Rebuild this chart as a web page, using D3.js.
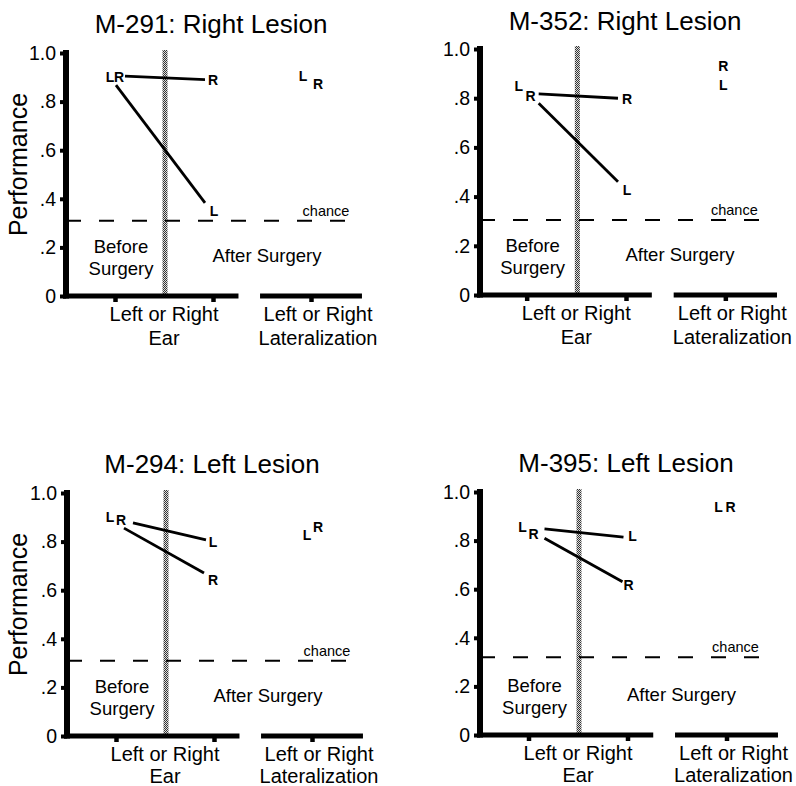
<!DOCTYPE html>
<html><head><meta charset="utf-8">
<script src="https://cdn.jsdelivr.net/npm/d3@7"></script>
<style>
body{margin:0;background:#fff;}
svg{display:block;font-family:"Liberation Sans",Arial,Helvetica,sans-serif;}
</style></head>
<body><svg id="c" width="796" height="786"></svg>
<script>
// ---------- data ----------
const titles = ["M-291: Right Lesion", "M-352: Right Lesion", "M-294: Left Lesion", "M-395: Left Lesion"];
const conditions = ["Before", "After", "Lateralization"];
const yTicks = [0, 0.2, 0.4, 0.6, 0.8, 1.0];
const yTickLabels = ["0", ".2", ".4", ".6", ".8", "1.0"];
const earLabel = ["Left or Right", "Ear"];
const latLabel = ["Left or Right", "Lateralization"];
const leftBefore   = [0.873, 0.828, 0.893, 0.855];
const leftAfter    = [0.340, 0.428, 0.799, 0.813];
const rightBefore  = [0.907, 0.820, 0.874, 0.846];
const rightAfter   = [0.889, 0.798, 0.648, 0.619];
const leftLateral  = [0.905, 0.855, 0.827, 0.938];
const rightLateral = [0.872, 0.930, 0.860, 0.938];
const chance       = [0.310, 0.305, 0.310, 0.320];

// ---------- layout / style ----------
const layout = [
  {top:53, bottom:296, axisX:66,  xr:[66,360],  titleX:211, titleY:33, ylab:true, catGap:24},
  {top:49, bottom:295, axisX:480, xr:[477,775], titleX:625, titleY:30, ylab:false, catGap:24},
  {top:493,bottom:736, axisX:67,  xr:[67,361],  titleX:212, titleY:473, ylab:true, catGap:22},
  {top:492,bottom:735, axisX:480, xr:[479,776], titleX:626, titleY:472, ylab:false, catGap:22}
];
// label offsets [dx,dy] and line trims
const lab = [
  {bL:[-5,-7], bR:[4,1],  aL:[1,-2], aR:[0,0], latL:[-8,0], latR:[7,0], g:{L:[1,8], R:[10,8]}},
  {bL:[-8,-5], bR:[4,3],  aL:[1,0],  aR:[1,0], latL:[-2,0], latR:[-2,0], g:{L:[12,8], R:[12,8]}},
  {bL:[-6,-2], bR:[5,-4], aL:[-1,0], aR:[-1,1], latL:[-5,0], latR:[6,0], g:{L:[17,8], R:[8,10]}},
  {bL:[-6,0],  bR:[5,5],  aL:[5,-1], aR:[1,0], latL:[-8,0], latR:[4,0], g:{L:[16,4], R:[16,5]}}
];

const svg = d3.select("#c");
const defs = svg.append("defs");
const pat = defs.append("pattern").attr("id","stip").attr("width",2).attr("height",2)
  .attr("patternUnits","userSpaceOnUse");
pat.append("rect").attr("width",2).attr("height",2).attr("fill","#ddd");
pat.append("rect").attr("width",1).attr("height",1).attr("fill","#333");
pat.append("rect").attr("x",1).attr("y",1).attr("width",1).attr("height",1).attr("fill","#333");

titles.forEach((title, i) => {
  const L = layout[i], o = lab[i];
  const g = svg.append("g");
  const y = d3.scaleLinear().domain([0,1]).range([L.bottom, L.top]);
  const x = d3.scalePoint().domain(conditions).range(L.xr).padding(0.5);
  const step = x.step();
  const xB = x("Before"), xA = x("After"), xLat = x("Lateralization");

  // title
  g.append("text").attr("x", L.titleX).attr("y", L.titleY).attr("text-anchor","middle")
    .attr("font-size", 26).attr("fill","#000").text(title);

  // gray vertical divider
  const gx = (xB + xA) / 2 + 1;
  g.append("rect").attr("x", gx - 2.5).attr("y", y(1) - 3).attr("width", 5)
    .attr("height", y(0) - y(1) + 3).attr("fill", "url(#stip)");

  // chance dashed line
  g.append("line").attr("x1", L.axisX).attr("x2", xLat + 35)
    .attr("y1", y(chance[i])).attr("y2", y(chance[i]))
    .attr("stroke","#000").attr("stroke-width",2).attr("stroke-dasharray","15,18");
  g.append("text").attr("x", xLat + (i % 2 ? 9 : 15)).attr("y", y(chance[i]) - 5)
    .attr("text-anchor","middle").attr("font-size",14.5).text("chance");

  // y axis
  const ya = d3.axisLeft(y).tickValues(yTicks).tickFormat((d, k) => yTickLabels[k])
    .tickSize(6).tickSizeOuter(0).tickPadding(4);
  const yg = g.append("g").attr("transform", `translate(${L.axisX},0)`).call(ya);
  yg.select(".domain").remove();
  yg.selectAll(".tick line").attr("stroke","#000").attr("stroke-width",4);
  yg.selectAll(".tick text").attr("font-size",19.5).attr("fill","#000")
    .attr("font-family","'Liberation Sans',Arial,sans-serif");
  g.append("line").attr("x1", L.axisX).attr("x2", L.axisX)
    .attr("y1", y(1) - 3).attr("y2", y(0) + 2.5)
    .attr("stroke","#000").attr("stroke-width",6);

  // x axis: ticks from scale, two baseline segments
  const xa = d3.axisBottom(x).tickSize(6).tickFormat("");
  const xg = g.append("g").attr("transform", `translate(0,${y(0)})`).call(xa);
  xg.select(".domain").remove();
  xg.selectAll(".tick line").attr("stroke","#000").attr("stroke-width",4.5);
  g.append("line").attr("x1", L.axisX - 3).attr("x2", xA + 0.26 * step)
    .attr("y1", y(0)).attr("y2", y(0)).attr("stroke","#000").attr("stroke-width",5);
  g.append("line").attr("x1", xLat - 0.52 * step).attr("x2", xLat + 0.52 * step)
    .attr("y1", y(0)).attr("y2", y(0)).attr("stroke","#000").attr("stroke-width",5);

  // category labels
  const cat1 = (xB + xA) / 2, cat2 = xLat + 7;
  [[cat1, earLabel], [cat2, latLabel]].forEach(([cx, lines]) => {
    lines.forEach((t, k) => {
      g.append("text").attr("x", cx).attr("y", y(0) + 25 + k * L.catGap)
        .attr("text-anchor","middle").attr("font-size",20).text(t);
    });
  });

  // Before / After surgery labels
  ["Before","Surgery"].forEach((t, k) => {
    g.append("text").attr("x", xB + 6).attr("y", y(0) - 43 + k * 21.5)
      .attr("text-anchor","middle").attr("font-size",18.5).text(t);
  });
  g.append("text").attr("x", xA + 54).attr("y", y(0) - 34)
    .attr("text-anchor","middle").attr("font-size",18.5).text("After Surgery");

  // data lines
  const series = [
    {k:"L", b:leftBefore[i], a:leftAfter[i], lat:leftLateral[i]},
    {k:"R", b:rightBefore[i], a:rightAfter[i], lat:rightLateral[i]}
  ];
  series.forEach(s => {
    const [g0, g1] = o.g[s.k];
    const x0 = xB, x1 = xA, y0 = y(s.b), y1 = y(s.a);
    const f = t => y0 + (y1 - y0) * (t - x0) / (x1 - x0);
    g.append("line").attr("x1", x0 + g0).attr("y1", f(x0 + g0))
      .attr("x2", x1 - g1).attr("y2", f(x1 - g1))
      .attr("stroke","#000").attr("stroke-width",2.8);
    const lt = (px, py, off) => g.append("text").attr("x", px + off[0]).attr("y", py + off[1])
      .attr("dy","0.36em").attr("text-anchor","middle").attr("font-size",14)
      .attr("font-weight","bold").text(s.k);
    lt(xB, y(s.b), o["b" + s.k]);
    lt(xA, y(s.a), o["a" + s.k]);
    lt(xLat, y(s.lat), o["lat" + s.k]);
  });

  // y-axis title
  if (L.ylab) {
    g.append("text").attr("transform", `translate(27,${(L.top + L.bottom) / 2 - 10}) rotate(-90)`)
      .attr("text-anchor","middle").attr("font-size",25).text("Performance");
  }
});
</script>
</body></html>
